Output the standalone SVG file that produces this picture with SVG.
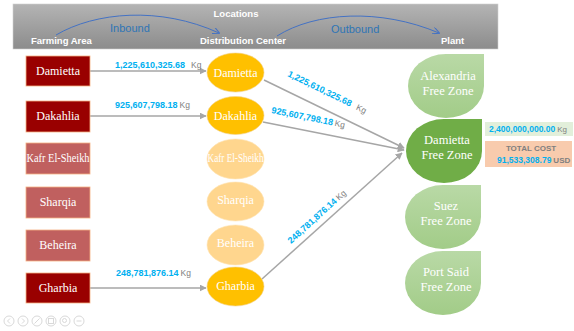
<svg xmlns="http://www.w3.org/2000/svg" width="574" height="331" viewBox="0 0 574 331">
<defs>
<linearGradient id="hdr" x1="0" y1="0" x2="0" y2="1"><stop offset="0" stop-color="#B4B4B4"/><stop offset="1" stop-color="#8C8C8C"/></linearGradient>
<linearGradient id="lg" x1="0" y1="0" x2="0" y2="1"><stop offset="0" stop-color="#B9D9A6"/><stop offset="1" stop-color="#A2CC88"/></linearGradient>
<marker id="ag" viewBox="0 0 10 10" refX="9" refY="5" markerWidth="7" markerHeight="7" orient="auto-start-reverse" markerUnits="userSpaceOnUse"><path d="M0,0 L10,5 L0,10 z" fill="#A6A6A6"/></marker>
<marker id="ab" viewBox="0 0 10 10" refX="9" refY="5" markerWidth="7" markerHeight="7" orient="auto" markerUnits="userSpaceOnUse"><path d="M0,0 L10,5 L0,10" fill="none" stroke="#4472C4" stroke-width="1.5"/></marker>
</defs>
<style>
.hd{font-family:"Liberation Sans",Arial,sans-serif;font-size:9.5px;font-weight:bold;fill:#FFFFFF}
.fl{font-family:"Liberation Sans",Arial,sans-serif;font-size:11px;fill:#2E75B6}
.box{stroke:#F4B183;stroke-width:0.8}
.on{fill:#990000}
.off{fill:#C0605F}
.el{fill:#FFC000;stroke:#F2D28C;stroke-width:0.6}
.elo{fill:#FFD68E;stroke:#FFE4B5;stroke-width:0.6}
.nt{font-family:"Liberation Serif","DejaVu Serif",serif;font-size:12px;fill:#FFFFFF;text-anchor:middle}
.pt{font-family:"Liberation Serif","DejaVu Serif",serif;font-size:12.5px;fill:#FFFFFF;text-anchor:middle}
.cn{stroke:#A6A6A6;stroke-width:1.5;fill:none;marker-end:url(#ag)}
.num{font-family:"Liberation Sans",Arial,sans-serif;font-size:9px;font-weight:bold;fill:#00B0F0}
.kg{font-family:"Liberation Sans",Arial,sans-serif;font-size:8.5px;fill:#7F7F7F}
.sm .num{font-size:8.5px}
.sm .kg{font-size:8px}
.ic{fill:none;stroke:#D9D9D9;stroke-width:1}
</style>
<rect width="574" height="331" fill="#FFFFFF"/>
<g id="header">
<rect x="13" y="4" width="485" height="45" fill="url(#hdr)" stroke="#D0D0D0" stroke-width="0.6"/>
<text class="hd" x="236" y="17" text-anchor="middle">Locations</text>
<text class="hd" x="31" y="43.5">Farming Area</text>
<text class="hd" x="200" y="43.5">Distribution Center</text>
<text class="hd" x="441" y="43.5">Plant</text>
<path d="M56,35 C95,12 160,6 219,33" fill="none" stroke="#4472C4" stroke-width="1" marker-end="url(#ab)"/>
<path d="M277,36 C315,12 380,8 439,33" fill="none" stroke="#4472C4" stroke-width="1" marker-end="url(#ab)"/>
<text class="fl" x="110" y="32">Inbound</text>
<text class="fl" x="331" y="33">Outbound</text>
</g>
<g id="connectors">
<line class="cn" x1="90" y1="71" x2="206" y2="71"/>
<line class="cn" x1="90" y1="116" x2="206" y2="116"/>
<line class="cn" x1="90" y1="288" x2="206" y2="288"/>
<line class="cn" x1="264" y1="80" x2="404" y2="148"/>
<line class="cn" x1="263" y1="122" x2="404" y2="150"/>
<line class="cn" x1="262" y1="279" x2="402" y2="153"/>
<text x="115" y="68"><tspan class="num">1,225,610,325.68</tspan><tspan class="kg" dx="6">Kg</tspan></text>
<text x="115" y="108"><tspan class="num">925,607,798.18</tspan><tspan class="kg" dx="2">Kg</tspan></text>
<text x="116" y="276"><tspan class="num">248,781,876.14</tspan><tspan class="kg" dx="2">Kg</tspan></text>
<text transform="translate(287,76) rotate(26)"><tspan class="num">1,225,610,325.68</tspan><tspan class="kg" dx="6">Kg</tspan></text>
<text transform="translate(271,113) rotate(11.5)"><tspan class="num">925,607,798.18</tspan><tspan class="kg" dx="2">Kg</tspan></text>
<text transform="translate(291,244) rotate(-42)"><tspan class="num">248,781,876.14</tspan><tspan class="kg" dx="2">Kg</tspan></text>
</g>
<g id="farm-damietta"><rect class="box on" x="26" y="56" width="64" height="30"/><text class="nt" x="58" y="75">Damietta</text></g>
<g id="farm-dakahlia"><rect class="box on" x="26" y="101" width="64" height="31"/><text class="nt" x="58" y="120">Dakahlia</text></g>
<g id="farm-kafr"><rect class="box off" x="26" y="143" width="64" height="31"/><text class="nt" x="58" y="162" font-size="11" textLength="63" lengthAdjust="spacingAndGlyphs">Kafr El-Sheikh</text></g>
<g id="farm-sharqia"><rect class="box off" x="26" y="187" width="64" height="31"/><text class="nt" x="58" y="206">Sharqia</text></g>
<g id="farm-beheira"><rect class="box off" x="26" y="230" width="64" height="31"/><text class="nt" x="58" y="249">Beheira</text></g>
<g id="farm-gharbia"><rect class="box on" x="26" y="273" width="64" height="30"/><text class="nt" x="58" y="292">Gharbia</text></g>
<g id="dc-damietta"><ellipse class="el" cx="235.5" cy="72.5" rx="28.5" ry="19.5"/><text class="nt" x="235.5" y="76.5">Damietta</text></g>
<g id="dc-dakahlia"><ellipse class="el" cx="235.5" cy="115.5" rx="28.5" ry="19"/><text class="nt" x="235.5" y="119.5">Dakahlia</text></g>
<g id="dc-kafr"><ellipse class="elo" cx="235.5" cy="159" rx="28.5" ry="20"/><text class="nt" x="235.5" y="162" font-size="10" textLength="56" lengthAdjust="spacingAndGlyphs">Kafr El-Sheikh</text></g>
<g id="dc-sharqia"><ellipse class="elo" cx="235.5" cy="201.5" rx="28.5" ry="19.5"/><text class="nt" x="235.5" y="204">Sharqia</text></g>
<g id="dc-beheira"><ellipse class="elo" cx="235.5" cy="245" rx="28.5" ry="20"/><text class="nt" x="235.5" y="247">Beheira</text></g>
<g id="dc-gharbia"><ellipse class="el" cx="235.5" cy="286.5" rx="28.5" ry="19.5"/><text class="nt" x="235.5" y="290">Gharbia</text></g>
<g id="plant-alexandria"><path d="M484,54 L484,86 A38,32 0 0 1 446,118 A38,32 0 0 1 408,86 A38,32 0 0 1 446,54 Z" fill="url(#lg)"/><text class="pt" x="448" y="80">Alexandria</text><text class="pt" x="448" y="95">Free Zone</text></g>
<g id="plant-damietta"><path d="M482,119 L482,151 A38,32 0 0 1 444,183 A38,32 0 0 1 406,151 A38,32 0 0 1 444,119 Z" fill="#70AD47"/><text class="pt" x="447" y="144">Damietta</text><text class="pt" x="447" y="159">Free Zone</text></g>
<g id="plant-suez"><path d="M481,185 L481,217 A38,32 0 0 1 443,249 A38,32 0 0 1 405,217 A38,32 0 0 1 443,185 Z" fill="url(#lg)"/><text class="pt" x="446" y="210">Suez</text><text class="pt" x="446" y="225">Free Zone</text></g>
<g id="plant-portsaid"><path d="M481,251 L481,283 A38,32 0 0 1 443,315 A38,32 0 0 1 405,283 A38,32 0 0 1 443,251 Z" fill="url(#lg)"/><text class="pt" x="446" y="276">Port Said</text><text class="pt" x="446" y="291">Free Zone</text></g>
<g id="capacity" class="sm"><rect x="485" y="122" width="88" height="14" fill="#E2EFDA"/><text x="489" y="132"><tspan class="num">2,400,000,000.00</tspan><tspan class="kg" dx="2">Kg</tspan></text></g>
<g id="total-cost" class="sm"><rect x="485" y="141" width="87" height="26" fill="#F8CBAD"/><text class="kg" x="531" y="151" text-anchor="middle" font-size="7.5" font-weight="bold">TOTAL COST</text><text x="497" y="162.5"><tspan class="num">91,533,308.79</tspan><tspan class="kg" dx="2" font-weight="bold">USD</tspan></text></g>
<g id="controls">
<circle class="ic" cx="9" cy="321" r="5"/><path d="M10,318.5 L7.5,321 L10,323.5" class="ic"/>
<circle class="ic" cx="23" cy="321" r="5"/><path d="M22,318.5 L24.5,321 L22,323.5" class="ic"/>
<circle class="ic" cx="37" cy="321" r="5"/><path d="M34.5,323.5 L39.5,318.5" class="ic"/>
<circle class="ic" cx="51" cy="321" r="5"/><rect x="48.5" y="318.5" width="5" height="5" class="ic"/>
<circle class="ic" cx="65" cy="321" r="5"/><circle cx="64.5" cy="320.5" r="2" class="ic"/>
<circle class="ic" cx="79" cy="321" r="5"/><path d="M76.5,321 L81.5,321" class="ic"/>
</g>
</svg>
